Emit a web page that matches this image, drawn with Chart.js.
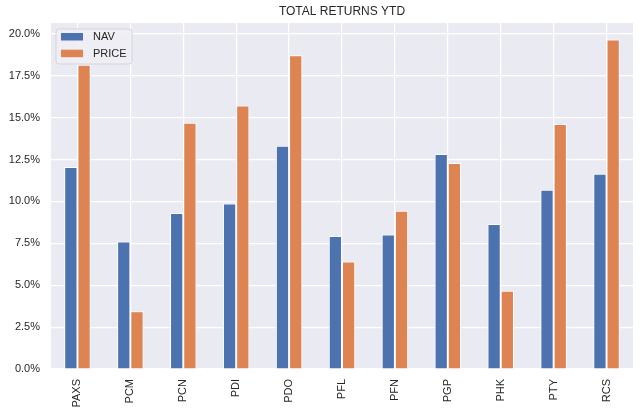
<!DOCTYPE html>
<html>
<head>
<meta charset="utf-8">
<script src="https://cdn.jsdelivr.net/npm/chart.js@4/dist/chart.umd.min.js"></script>
<style>
  html, body { margin: 0; padding: 0; background: #fff; }
  #wrap { width: 640px; height: 417px; position: relative; }
</style>
</head>
<body>
<div id="wrap"><canvas id="returnsChart"></canvas></div>
<script>
// data
const funds = ['PAXS', 'PCM', 'PCN', 'PDI', 'PDO', 'PFL', 'PFN', 'PGP', 'PHK', 'PTY', 'RCS']
const navReturns = [12.05, 7.61, 9.31, 9.88, 13.32, 7.94, 8.03, 12.83, 8.65, 10.70, 11.65]
const priceReturns = [18.16, 3.44, 14.70, 15.73, 18.73, 6.42, 9.45, 12.29, 4.67, 14.62, 19.67]
const chartTitle = 'TOTAL RETURNS YTD'

const FONT = '"Liberation Sans", Arial, sans-serif'
const TEXT = '#262626'

// gray plot background + title + legend drawn by hand (matplotlib look)
const decor = {
  id: 'decor',
  beforeDraw(chart) {
    const { ctx, chartArea: a } = chart
    ctx.save()
    ctx.fillStyle = '#EAEAF2'
    ctx.fillRect(a.left, a.top, a.right - a.left, a.bottom - a.top)
    ctx.restore()
  },
  afterDraw(chart) {
    const { ctx, chartArea: a } = chart
    ctx.save()
    ctx.fillStyle = TEXT
    ctx.font = '12px ' + FONT
    ctx.textAlign = 'center'
    ctx.textBaseline = 'middle'
    ctx.fillText(chartTitle, (a.left + a.right) / 2, 12)

    // legend box
    const x = a.left + 5, y = a.top + 6, w = 76, h = 35
    ctx.beginPath()
    ctx.roundRect(x, y, w, h, 3)
    ctx.fillStyle = 'rgba(238,238,244,0.9)'
    ctx.fill()
    ctx.strokeStyle = '#d4d4dc'
    ctx.lineWidth = 1
    ctx.stroke()
    ctx.font = '11px ' + FONT
    ctx.textAlign = 'left'
    chart.data.datasets.forEach((ds, i) => {
      const ry = y + 4 + i * 16.7
      ctx.fillStyle = ds.backgroundColor
      ctx.fillRect(x + 5, ry, 22, 7.5)
      ctx.fillStyle = TEXT
      ctx.fillText(ds.label, x + 37, ry + 4)
    })
    ctx.restore()
  },
}

new Chart(document.getElementById('returnsChart'), {
  type: 'bar',
  data: {
    labels: funds,
    datasets: [
      { label: 'NAV', data: navReturns, backgroundColor: '#4C72B0', borderColor: '#ffffff', borderWidth: 1 },
      { label: 'PRICE', data: priceReturns, backgroundColor: '#DD8452', borderColor: '#ffffff', borderWidth: 1 },
    ],
  },
  options: {
    responsive: true,
    maintainAspectRatio: false,
    animation: false,
    layout: { padding: { top: 23, right: 7, left: 0, bottom: 0 } },
    datasets: { bar: { categoryPercentage: 0.5, barPercentage: 1.0 } },
    plugins: {
      legend: { display: false },
      title: { display: false },
      tooltip: { enabled: false },
    },
    scales: {
      x: {
        offset: true,
        grid: { offset: false, color: '#ffffff', lineWidth: 1.2, drawTicks: false },
        border: { display: false },
        ticks: {
          color: TEXT,
          font: { family: FONT, size: 11 },
          minRotation: 90,
          maxRotation: 90,
          padding: 10,
        },
        afterFit(scale) { scale.height = 48 },
      },
      y: {
        min: 0,
        max: 20.65,
        grid: { color: '#ffffff', lineWidth: 1.2, drawTicks: false },
        border: { display: false },
        ticks: {
          stepSize: 2.5,
          includeBounds: false,
          color: TEXT,
          font: { family: FONT, size: 11 },
          padding: 11,
          callback: (v) => v.toFixed(1) + '%',
        },
        afterFit(scale) { scale.width = 51 },
      },
    },
  },
  plugins: [decor],
})
</script>
</body>
</html>
